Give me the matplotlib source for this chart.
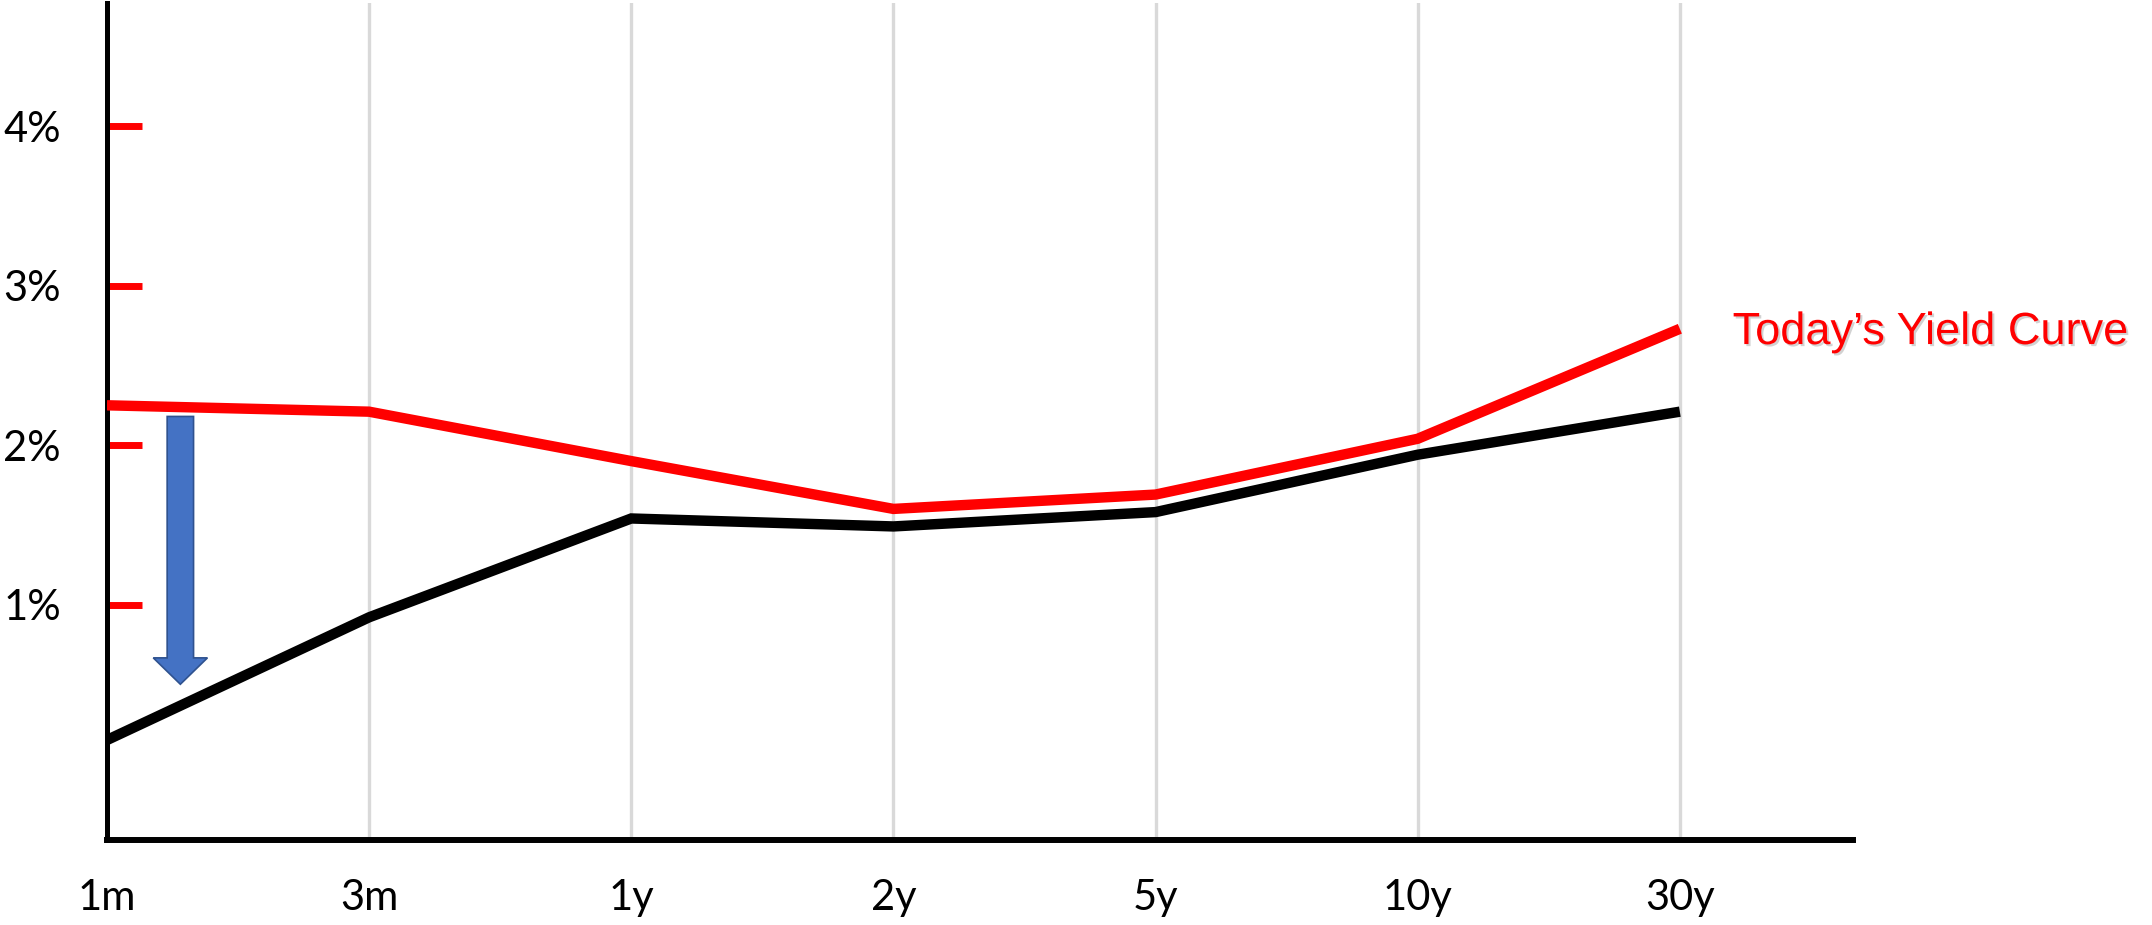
# Curva de rendimientos: hoy (rojo) frente a la curva tras la bajada (negro)

import matplotlib.pyplot as plt
import matplotlib.patheffects as pe
from matplotlib.patches import FancyArrowPatch

# Datos (en %)
plazos = ['1m', '3m', '1y', '2y', '5y', '10y', '30y']
rendimiento_hoy = [2.25, 2.21, 1.90, 1.60, 1.69, 2.04, 2.73]
rendimiento_despues = [0.15, 0.92, 1.54, 1.49, 1.58, 1.94, 2.21]
valores_eje_y = [1, 2, 3, 4]
etiquetas_eje_y = ['1%', '2%', '3%', '4%']
texto_curva = 'Today\u2019s Yield Curve'

# Flecha azul (anotación): x, y inicio, y fin
flecha_x = 0.28
flecha_y_ini = 2.18
flecha_y_fin = 0.50

fig = plt.figure(figsize=(21.52, 9.25), dpi=100)
ax = fig.add_axes([0.0497, 0.0919, 0.8113, 0.9049])

posiciones = list(range(len(plazos)))

ax.plot(posiciones, rendimiento_despues, color='black', linewidth=7.5,
        solid_capstyle='butt', solid_joinstyle='miter', zorder=3)
ax.plot(posiciones, rendimiento_hoy, color='#FF0000', linewidth=7.5,
        solid_capstyle='butt', solid_joinstyle='miter', zorder=4)

# Etiqueta de la curva actual
ax.annotate(texto_curva, xy=(posiciones[-1], rendimiento_hoy[-1]),
            xytext=(38, -11), textcoords='offset points',
            ha='left', va='baseline', color='#FF0000', fontsize=32.5,
            family=['Liberation Sans', 'DejaVu Sans'],
            path_effects=[pe.withSimplePatchShadow(offset=(1.5, -1.5), shadow_rgbFace='gray', alpha=0.35)])

# Flecha hacia abajo
flecha = FancyArrowPatch((flecha_x, flecha_y_ini), (flecha_x, flecha_y_fin),
                         arrowstyle='simple,head_length=19,head_width=39,tail_width=19',
                         mutation_scale=1, shrinkA=0, shrinkB=0,
                         facecolor='#4472C4', edgecolor='#2F528F', linewidth=1.2,
                         joinstyle='miter', zorder=5)
ax.add_patch(flecha)

ax.set_xlim(0, 6.66)
ax.set_ylim(-0.477, 4.774)

ax.set_xticks(posiciones)
ax.set_xticklabels(plazos, fontsize=30, family=['Lato', 'DejaVu Sans'])
ax.set_yticks(valores_eje_y)
ax.set_yticklabels(etiquetas_eje_y, fontsize=30, family=['Lato', 'DejaVu Sans'])

ax.tick_params(axis='x', length=0, pad=28)
ax.tick_params(axis='y', direction='in', length=25, width=5, color='#FF0000', pad=33)

ax.grid(axis='x', color='#D9D9D9', linewidth=2.4)
ax.grid(axis='y', visible=False)
ax.set_axisbelow(True)

ax.spines['top'].set_visible(False)
ax.spines['right'].set_visible(False)
ax.spines['left'].set_linewidth(3.6)
ax.spines['bottom'].set_linewidth(4.3)

plt.savefig('out.png', dpi=100)
plt.close(fig)
